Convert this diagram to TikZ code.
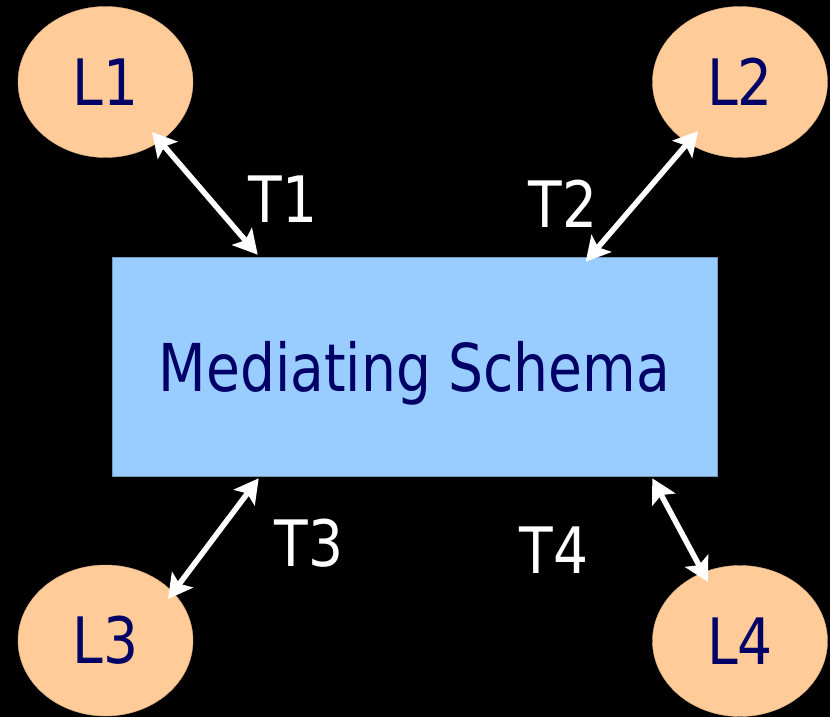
\documentclass[tikz,border=0pt]{standalone}
\usepackage{fontspec}
\setmainfont{DejaVu Sans}[FakeStretch=0.86]
\newfontfamily\schemafont{DejaVu Sans}[FakeStretch=0.835]
\usetikzlibrary{shapes.geometric,arrows.meta,positioning}
\definecolor{peach}{HTML}{FFCC99}
\definecolor{sky}{HTML}{99CCFF}
\definecolor{navy}{HTML}{000066}

\begin{document}
\begin{tikzpicture}[x=1pt,y=-1pt,
   lang/.style={ellipse,fill=peach,draw=peach!85!black,line width=0.4pt,
     minimum width=175pt,minimum height=151pt,inner sep=0pt,text=navy,
     font=\fontsize{64}{70}\selectfont},
   schemabox/.style={rectangle,fill=sky,draw=sky!75!black,line width=0.6pt,
     minimum width=605pt,minimum height=219pt,inner sep=0pt,text=navy,
     text depth=0pt,font=\schemafont\fontsize{66}{72}\selectfont},
   tlabel/.style={anchor=base,text=white,inner sep=0pt,
     font=\fontsize{64}{70}\selectfont},
   link/.style={white,line width=5.5pt,
     {Stealth[length=24pt,width=26pt,inset=5pt]}-{Stealth[length=24pt,width=26pt,inset=5pt]}}]
 \fill[black] (0,0) rectangle (830,717);
 \useasboundingbox (0,0) rectangle (830,717);
 \node[schemabox] (schema) at (414.5,366.5) {Mediating Schema};
 \node[lang] (l1) at (105.5,82) {L1};
 \node[lang] (l2) at (740,82) {L2};
 \node[lang] (l3) at (105.5,640.5) {L3};
 \node[lang] (l4) at (740,641) {L4};
 % transformations
 \draw[link] ([shift={(46.5,50)}]l1.center) -- ([shift={(146,-2)}]schema.north west);
 \draw[link] ([shift={(-42,49)}]l2.center) -- ([shift={(474,5)}]schema.north west);
 \draw[link] ([shift={(62.5,-41.5)}]l3.center) -- ([shift={(147,2)}]schema.south west);
 \draw[link] ([shift={(-32,-59)}]l4.center) -- ([shift={(-65,2)}]schema.south east);
 \node[tlabel] (t1) at (283,222) {T1};
 \node[tlabel] (t2) at (563,227) {T2};
 \node[tlabel] (t3) at (309,566) {T3};
 \node[tlabel] (t4) at (554,573) {T4};
\end{tikzpicture}
\end{document}
